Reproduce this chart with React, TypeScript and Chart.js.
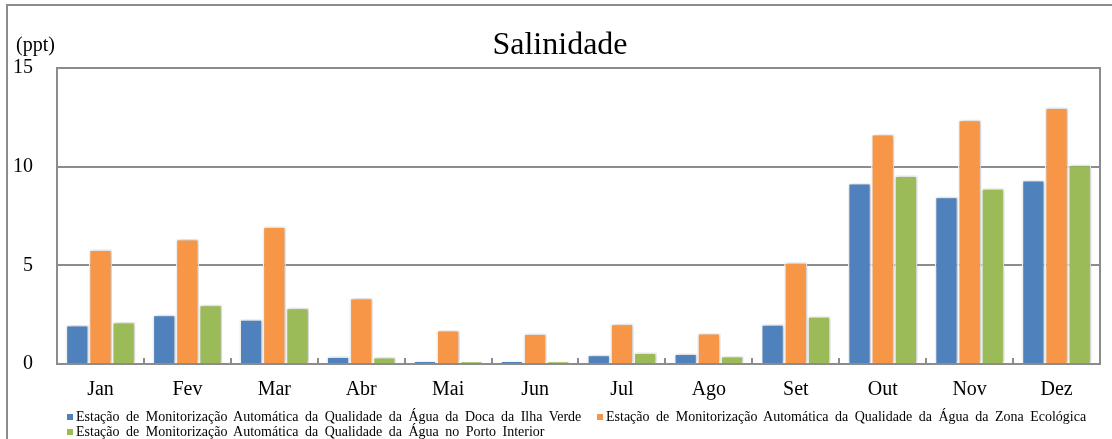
import React, { useEffect, useRef } from "react";
import { Chart, registerables } from "chart.js";

Chart.register(...registerables);

const months = ["Jan", "Fev", "Mar", "Abr", "Mai", "Jun", "Jul", "Ago", "Set", "Out", "Nov", "Dez"];
const seriesNames = [
  "Estação de Monitorização Automática da Qualidade da Água da Doca da Ilha Verde",
  "Estação de Monitorização Automática da Qualidade da Água da Zona Ecológica",
  "Estação de Monitorização Automática da Qualidade da Água no Porto Interior",
];
const docaIlhaVerde = [1.98, 2.5, 2.27, 0.38, 0.15, 0.14, 0.47, 0.53, 2.02, 9.17, 8.47, 9.32];
const zonaEcologica = [5.8, 6.34, 6.97, 3.35, 1.72, 1.55, 2.04, 1.57, 5.15, 11.65, 12.38, 13.0];
const portoInterior = [2.13, 3.0, 2.85, 0.35, 0.12, 0.13, 0.58, 0.4, 2.42, 9.55, 8.9, 10.1];
const yTicks = [0, 5, 10, 15];
const colors = ["#4F81BD", "#F79646", "#9BBB59"];
const titleText = "Salinidade";
const unitText = "(ppt)";

const FONT = "'Liberation Serif', 'Times New Roman', serif";

export default function App() {
  const ref = useRef<HTMLCanvasElement | null>(null);

  useEffect(() => {
    if (!ref.current) return;
    const decor = {
      id: "decor",
      beforeDraw(chart: any) {
        const ctx = chart.ctx;
        ctx.save();
        ctx.strokeStyle = "#8c8c8c";
        ctx.lineWidth = 2;
        ctx.strokeRect(7, 5, 1200, 600);
        ctx.fillStyle = "#000";
        ctx.font = `32px ${FONT}`;
        ctx.textAlign = "center";
        ctx.textBaseline = "middle";
        ctx.fillText(titleText, 560, 46);
        ctx.font = `20px ${FONT}`;
        ctx.textAlign = "left";
        ctx.fillText(unitText, 16, 46);
        ctx.restore();
      },
      beforeDatasetsDraw(chart: any) {
        const ctx = chart.ctx;
        ctx.save();
        ctx.shadowColor = "rgba(0,0,0,0.28)";
        ctx.shadowBlur = 4;
        ctx.shadowOffsetX = 1;
        ctx.shadowOffsetY = 0;
      },
      afterDatasetsDraw(chart: any) {
        chart.ctx.restore();
        const ctx = chart.ctx;
        const a = chart.chartArea;
        const xs = chart.scales.x;
        ctx.save();
        ctx.strokeStyle = "#8c8c8c";
        ctx.lineWidth = 2;
        ctx.strokeRect(a.left, a.top, a.right - a.left, a.bottom - a.top);
        const w = (a.right - a.left) / months.length;
        for (let i = 1; i < months.length; i++) {
          const x = Math.round(xs.getPixelForValue(i) - w / 2);
          ctx.beginPath();
          ctx.moveTo(x, a.bottom - 6);
          ctx.lineTo(x, a.bottom);
          ctx.stroke();
        }
        ctx.restore();
      },
    };

    const chart = new Chart(ref.current, {
      type: "bar",
      data: {
        labels: months,
        datasets: [docaIlhaVerde, zonaEcologica, portoInterior].map((d, i) => ({
          label: seriesNames[i],
          data: d,
          backgroundColor: colors[i],
          borderColor: "#ffffff",
          borderWidth: 1.5,
          categoryPercentage: 0.8,
          barPercentage: 1,
        })),
      },
      options: {
        animation: false,
        responsive: false,
        maintainAspectRatio: false,
        layout: { padding: { left: 7, right: 12, top: 68, bottom: 35 } },
        plugins: {
          legend: { display: false },
          title: { display: false },
          tooltip: { enabled: false },
        },
        scales: {
          x: {
            grid: { display: false, drawTicks: false },
            border: { display: false },
            ticks: { color: "#000", font: { family: FONT, size: 20 }, padding: 14 },
            afterFit(s: any) { s.height = 40; },
          },
          y: {
            min: 0,
            max: 15,
            afterBuildTicks(s: any) { s.ticks = yTicks.map((v) => ({ value: v })); },
            grid: { color: "#8c8c8c", lineWidth: 2, drawTicks: false },
            border: { display: true, color: "#8c8c8c", width: 2 },
            ticks: { color: "#000", font: { family: FONT, size: 20 }, padding: 24 },
            afterFit(s: any) { s.width = 50; },
          },
        },
      },
      plugins: [decor],
    } as any);
    return () => chart.destroy();
  }, []);

  return (
    <div style={{ position: "absolute", left: 0, top: 0, width: 1112, height: 439, background: "#fff", overflow: "hidden" }}>
      <canvas ref={ref} width={1112} height={439} style={{ display: "block" }} />
      {[[0, 67, 417], [1, 597, 417], [2, 67, 432]].map(([i, x, y]) => (
        <div
          key={i}
          style={{
            position: "absolute",
            left: x,
            top: y - 8,
            height: 16,
            display: "flex",
            alignItems: "center",
            fontFamily: FONT,
            fontSize: 14,
            color: "#000",
            whiteSpace: "nowrap",
          }}
        >
          <span style={{ display: "inline-block", width: 6, height: 6, background: colors[i], marginRight: 3 }} />
          <span style={{ wordSpacing: 3 }}>{seriesNames[i]}</span>
        </div>
      ))}
    </div>
  );
}
